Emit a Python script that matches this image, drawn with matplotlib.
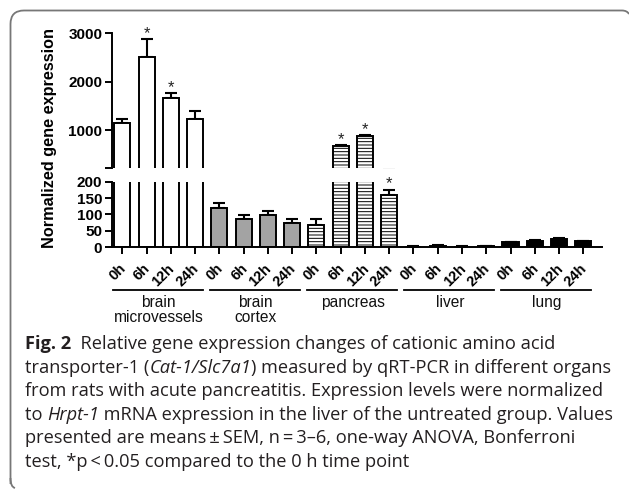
import matplotlib
matplotlib.use('Agg')
import matplotlib.pyplot as plt
import matplotlib.transforms as mtransforms
from matplotlib.path import Path
from matplotlib.patches import PathPatch

# ---------------- data ----------------
groups = ['brain\nmicrovessels', 'brain\ncortex', 'pancreas', 'liver', 'lung']
times = ['0h', '6h', '12h', '24h']
brain_micro = [1150, 2510, 1660, 1220]
brain_micro_err = [75, 370, 100, 175]
brain_cortex = [120, 87, 97, 75]
brain_cortex_err = [15, 11, 14, 12]
pancreas = [66, 669, 876, 160]
pancreas_err = [19, 18, 22, 16]
liver = [1.5, 4, 1.5, 3]
liver_err = [0.5, 1, 0.5, 1]
lung = [14, 19, 26, 17]
lung_err = [1.5, 2, 2, 1.5]
significant = [(0, 1), (0, 2), (2, 1), (2, 2), (2, 3)]  # (group, time) with *
upper_ticks = [1000, 2000, 3000]
lower_ticks = [0, 50, 100, 150, 200]

series = [brain_micro, brain_cortex, pancreas, liver, lung]
errs = [brain_micro_err, brain_cortex_err, pancreas_err, liver_err, lung_err]
faces = ['white', '#a3a3a3', 'white', 'black', 'black']
hatches = [None, None, '-----', None, None]

plt.rcParams['hatch.linewidth'] = 0.7
plt.rcParams['font.family'] = ['Liberation Sans', 'DejaVu Sans']

W, H = 629, 496
fig = plt.figure(figsize=(W / 100, H / 100), dpi=100)

ax_up = fig.add_axes([112 / W, 1 - 168.3 / H, 489.7 / W, 135 / H])
ax_lo = fig.add_axes([112 / W, 1 - 247 / H, 489.7 / W, 65.3 / H])

lw = 1.4
for ax in (ax_up, ax_lo):
    for g, (vals, er) in enumerate(zip(series, errs)):
        xs = [g * 4 + k for k in range(4)]
        ax.bar(xs, vals, width=0.66, color=faces[g], edgecolor='black',
               linewidth=lw, hatch=hatches[g], zorder=2)
        ax.errorbar(xs, vals, yerr=[[0] * 4, er], fmt='none', ecolor='black',
                    elinewidth=1.5, capsize=4.3, capthick=1.5, zorder=1)
    ax.set_xlim(-0.43, 19.76)
    for s in ('top', 'right'):
        ax.spines[s].set_visible(False)
    ax.spines['left'].set_linewidth(lw)
    ax.spines['bottom'].set_linewidth(lw)
    ax.tick_params(axis='y', length=5, width=lw, pad=2, labelsize=11)

ax_up.set_ylim(210, 3000)
ax_up.spines['bottom'].set_visible(False)
ax_up.set_xticks([])
ax_up.set_yticks([210] + upper_ticks)
ax_up.set_yticklabels([''] + [str(v) for v in upper_ticks], fontweight='bold')

ax_lo.set_ylim(0, 200)
ax_lo.set_yticks(lower_ticks)
ax_lo.set_yticklabels([str(v) for v in lower_ticks], fontweight='bold')
ax_lo.set_xticks(range(20))
ax_lo.set_xticklabels([])
ax_lo.tick_params(axis='x', length=5, width=lw)

# significance stars
for g, k in significant:
    top = series[g][k] + errs[g][k]
    ax = ax_up if top > 200 else ax_lo
    ax.annotate('*', xy=(g * 4 + k, top), xytext=(0, 1), textcoords='offset pixels',
                ha='center', va='baseline', fontsize=12, color='#222222',
                annotation_clip=False)

# rotated time labels
for g in range(5):
    for k, t in enumerate(times):
        ax_lo.annotate(t, xy=(g * 4 + k, 0), xycoords=('data', 'axes fraction'),
                       xytext=(1.5, -19.5), textcoords='offset pixels', rotation=45,
                       rotation_mode='anchor', ha='right', va='center',
                       fontsize=10.5, fontweight='bold', annotation_clip=False)

# group underlines and labels
trans = mtransforms.blended_transform_factory(ax_lo.transData, fig.transFigure)
for g, name in enumerate(groups):
    x0 = g * 4 - 0.4
    x1 = g * 4 + 3 + 0.31
    fig.add_artist(plt.Line2D([x0, x1], [1 - 289.5 / H] * 2, transform=trans,
                              color='black', lw=1.3))
    fig.text(g * 4 + 1.5, 1 - 295 / H, name, transform=trans, ha='center',
             va='top', fontsize=11.2, linespacing=1.0, color='#111111')

fig.text(50 / W, 1 - 138 / H, 'Normalized gene expression', rotation=90,
         ha='center', va='center', fontweight='bold', fontsize=11.7)

# rounded border
pts = [(10.5, 484), (10.5, 24), (10.5, 10.5), (24, 10.5), (622, 10.5),
       (627, 10.5), (629, 14)]
codes = [Path.MOVETO, Path.LINETO, Path.CURVE3, Path.CURVE3, Path.LINETO,
         Path.CURVE3, Path.CURVE3]
pts_f = [(x / W, 1 - y / H) for x, y in pts]
fig.add_artist(PathPatch(Path(pts_f, codes), transform=fig.transFigure,
                         facecolor='none', edgecolor='#777777', lw=1.3))
pts2 = [(10.5, 478), (10.5, 487), (15, 488)]
fig.add_artist(PathPatch(Path([(x / W, 1 - y / H) for x, y in pts2],
                              [Path.MOVETO, Path.CURVE3, Path.CURVE3]),
                         transform=fig.transFigure, facecolor='none',
                         edgecolor='#777777', lw=1.3))

# caption (mixed styles)
cap_font = ['Open Sans', 'DejaVu Sans']
caption = [
    [('Fig. 2', 'bold', 'normal'), ('  Relative gene expression changes of cationic amino acid', 'normal', 'normal')],
    [('transporter-1 (', 'normal', 'normal'), ('Cat-1/Slc7a1', 'normal', 'italic'),
     (') measured by qRT-PCR in different organs', 'normal', 'normal')],
    [('from rats with acute pancreatitis. Expression levels were normalized', 'normal', 'normal')],
    [('to ', 'normal', 'normal'), ('Hrpt-1', 'normal', 'italic'),
     (' mRNA expression in the liver of the untreated group. Values', 'normal', 'normal')],
    [('presented are means\u2009\u00b1\u2009SEM, n\u2009=\u20093\u20136, one-way ANOVA, Bonferroni', 'normal', 'normal')],
    [('test, *p\u2009<\u20090.05 compared to the 0 h time point', 'normal', 'normal')],
]
renderer = fig.canvas.get_renderer()


def draw_line(runs, x, y, size, keep=True):
    made = []
    for txt, wgt, sty in runs:
        t = fig.text(x / W, 1 - y / H, txt, ha='left', va='baseline',
                     fontsize=size, fontweight=wgt, fontstyle=sty,
                     family=cap_font, color='#231f20')
        bb = t.get_window_extent(renderer=renderer)
        x += bb.width
        made.append(t)
    if not keep:
        for t in made:
            t.remove()
    return x


# fit caption size so line 2 spans the reference width
test_size = 11.0
end = draw_line(caption[1], 25, 0, test_size, keep=False)
cap_size = test_size * (612 - 25) / (end - 25)

base_y = 349
for li, runs in enumerate(caption):
    draw_line(runs, 25, base_y + li * 23.6, cap_size)

fig.savefig('out.png', dpi=100)
